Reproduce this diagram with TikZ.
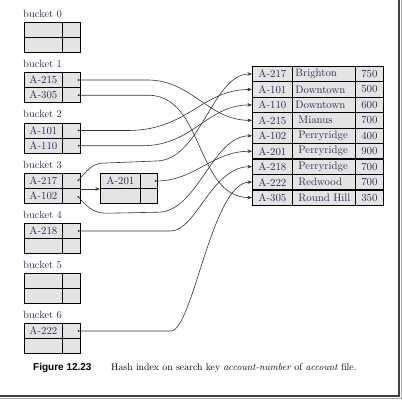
\documentclass[tikz,border=0pt]{standalone}
\usepackage{fontspec}
\setsansfont{Liberation Sans}
\usetikzlibrary{arrows.meta}
\definecolor{txt}{HTML}{2B2B55}
\definecolor{cellfill}{HTML}{E4E4E4}
\definecolor{ln}{HTML}{333333}
\tikzset{
  cellbox/.style={draw=black, line width=0.8pt, fill=cellfill, inner sep=0pt,
    minimum height=15.2pt, anchor=north west, text=txt,
    font=\fontsize{10.8}{12}\selectfont},
  keyc/.style={cellbox, minimum width=38pt},
  ptrc/.style={cellbox, minimum width=18pt},
  okey/.style={cellbox, minimum width=40pt},
  optr/.style={cellbox, minimum width=17pt},
  c1/.style={cellbox, minimum width=40pt},
  c2/.style={cellbox, minimum width=63pt, text width=57pt, align=left},
  c3/.style={cellbox, minimum width=28pt},
  blabel/.style={anchor=base west, inner sep=0pt, text=txt, font=\fontsize{10.5}{12}\selectfont},
  link/.style={draw=ln, line width=0.6pt, {Circle[length=1.8pt]}-{Stealth[length=4.5pt,width=3.5pt]}},
}
\begin{document}
\begin{tikzpicture}[x=1pt,y=-1pt]
\useasboundingbox (0,0) rectangle (402,400);
\fill[white] (0,0) rectangle (402,400);
% frame shadow
\draw[line width=2.2pt, black!75] (399.3,0) -- (399.3,396) -- (0,396);
\draw[line width=1pt, black!35] (401,0) -- (401,398) -- (0,398);

% buckets
\foreach \k/\y in {0/22,1/72,2/122.5,3/173,4/223,5/273,6/323}{
  \node[blabel] (lab\k) at (23,\y-5) {bucket \k};
}
\foreach \k/\y in {0/22,5/273}{
  \node[keyc] (b\k k1) at (24,\y) {};
  \node[ptrc] (b\k p1) at (62,\y) {};
  \node[keyc] (b\k k2) at (24,\y+15.2) {};
  \node[ptrc] (b\k p2) at (62,\y+15.2) {};
}
\node[keyc] (b1k1) at (24,72) {A-215};
\node[ptrc] (b1p1) at (62,72) {};
\node[keyc] (b1k2) at (24,87.2) {A-305};
\node[ptrc] (b1p2) at (62,87.2) {};
\node[keyc] (b2k1) at (24,122.5) {A-101};
\node[ptrc] (b2p1) at (62,122.5) {};
\node[keyc] (b2k2) at (24,137.7) {A-110};
\node[ptrc] (b2p2) at (62,137.7) {};
\node[keyc] (b3k1) at (24,173) {A-217};
\node[ptrc] (b3p1) at (62,173) {};
\node[keyc] (b3k2) at (24,188.2) {A-102};
\node[ptrc] (b3p2) at (62,188.2) {};
\node[keyc] (b4k1) at (24,223) {A-218};
\node[ptrc] (b4p1) at (62,223) {};
\node[keyc] (b4k2) at (24,238.2) {};
\node[ptrc] (b4p2) at (62,238.2) {};
\node[keyc] (b6k1) at (24,323) {A-222};
\node[ptrc] (b6p1) at (62,323) {};
\node[keyc] (b6k2) at (24,338.2) {};
\node[ptrc] (b6p2) at (62,338.2) {};

% overflow bucket
\node[okey] (ok1) at (100,173) {A-201};
\node[optr] (op1) at (140,173) {};
\node[okey] (ok2) at (100,188.2) {};
\node[optr] (op2) at (140,188.2) {};

% file table
\foreach \i/\a/\b/\c in {0/A-217/Brighton/750,1/A-101/Downtown/500,2/A-110/Downtown/600,
  3/A-215/\hspace*{3pt}Mianus/700,4/A-102/\hspace*{3pt}Perryridge/400,5/A-201/\hspace*{3pt}Perryridge/900,
  6/A-218/\hspace*{3pt}Perryridge/700,7/A-222/\hspace*{3pt}Redwood/700,8/A-305/\hspace*{3pt}Round Hill/350}{
  \node[c1] (t\i) at (252,66+\i*15.45) {\a};
  \node[c2] (u\i) at (292,66+\i*15.45) {\b};
  \node[c3] (v\i) at (355,66+\i*15.45) {\c};
}

% start points
\foreach \n in {b1p1,b1p2,b2p1,b2p2,b3p1,b3p2,b4p1,b6p1,op1}{
  \coordinate (s\n) at ([xshift=-3pt]\n.east);
}

% connectors
\draw[link] (sb1p1) -- ++(70,0) to[out=0,in=180] (t3.west);
\draw[link] (sb1p2) -- ++(70,0) to[out=0,in=180] (t8.west);
\draw[link] (sb2p1) -- ++(50,0) .. controls +(60,0) and +(-50,0) .. (t1.west);
\draw[link] (sb2p2) -- ++(65,0) .. controls +(50,0) and +(-45,0) .. (t2.west);
\draw[link] (sb3p1) .. controls +(12,-14) and +(-12,0) .. ++(28,-18) -- ++(50,-2) .. controls +(45,0) and +(-40,0) .. (t0.west);
\draw[link] (sb3p2) .. controls +(12,14) and +(-12,0) .. ++(30,17) -- ++(50,-1) .. controls +(40,0) and +(-40,0) .. (t4.west);
\draw[link] (sop1) .. controls +(40,0) and +(-40,0) .. (t5.west);
\draw[link] (sb4p1) -- ++(93,0) .. controls +(25,0) and +(-40,0) .. (t6.west);
\draw[link] (sb6p1) -- ++(93,0) .. controls +(22,0) and +(-40,0) .. (t7.west);
\draw[draw=ln, line width=0.6pt, -{Stealth[length=4.5pt,width=3.5pt]}] (b3p1.south east) -- (ok1.south west);

% caption
\node[anchor=base west, inner sep=0pt, font=\sffamily\bfseries\fontsize{10}{12}\selectfont] (fig) at (33,370) {Figure 12.23};
\node[anchor=base west, inner sep=0pt, font=\fontsize{9.8}{12}\selectfont] (cap) at (111,370) {Hash index on search key \textit{account-number} of \textit{account} file.};
\end{tikzpicture}
\end{document}
